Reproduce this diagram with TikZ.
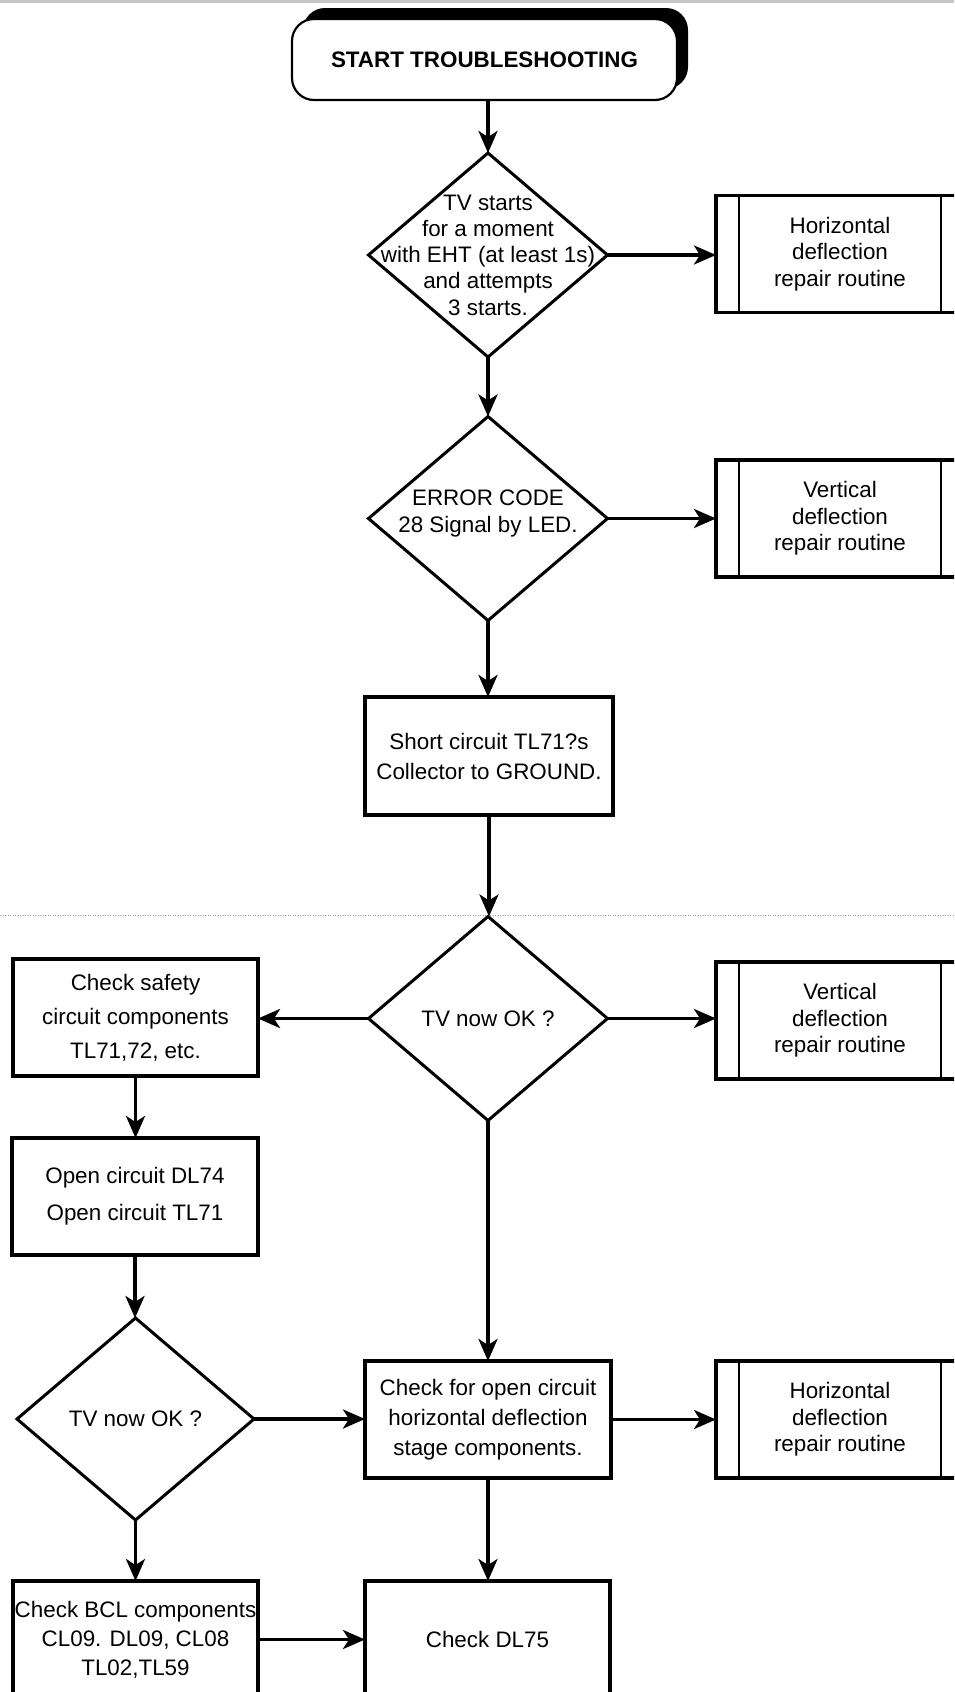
\documentclass[tikz,border=0pt]{standalone}
\usepackage{fontspec}
\setmainfont{Liberation Sans}
\usetikzlibrary{arrows.meta,shapes.geometric,shadows}
\begin{document}
\begin{tikzpicture}[x=1pt,y=-1pt,
  base/.style={font=\fontsize{22.4pt}{26.5pt}\selectfont, align=center, inner sep=0pt, outer sep=0pt},
  box/.style={base, draw, line width=3.5pt, rectangle, minimum width=245pt, minimum height=117pt},
  dec/.style={draw, diamond, line width=3pt, minimum width=239pt, minimum height=204pt, inner sep=0pt, outer sep=0pt},
  txt/.style={base},
  sub/.style={box, minimum width=248pt, path picture={
      \draw[line width=2.5pt] ([xshift=23pt]path picture bounding box.north west) -- ([xshift=23pt]path picture bounding box.south west);
      \draw[line width=2.5pt] ([xshift=-23pt]path picture bounding box.north east) -- ([xshift=-23pt]path picture bounding box.south east);}},
  arr/.style={line width=3.5pt, -{Stealth[length=22pt,width=19pt,inset=6pt]}},
  sp/.style={font=\fontsize{22.4pt}{#1}\selectfont}
]
\useasboundingbox (0,0) rectangle (954,1692);
\clip (0,0) rectangle (954,1692);
\fill[white] (0,0) rectangle (954,1692);
% scan artefacts
\fill[black!22] (0,0) rectangle (954,3);
\draw[black!40, line width=1pt, dash pattern=on 1pt off 1.5pt] (0,915) -- (954,915);

% start
\node[base, draw, fill=white, line width=2.2pt, rounded corners=22pt, minimum width=385pt, minimum height=81pt,
      font=\bfseries\fontsize{22.4pt}{26pt}\selectfont,
      drop shadow={fill=black, opacity=1, shadow xshift=11pt, shadow yshift=11pt}] (start) at (484.5,59.5) {START TROUBLESHOOTING};

% decision 1
\node[dec] (d1) at (488,255) {};
\node[txt, sp=26.3pt] (d1t) at (d1.center) {TV starts\\for a moment\\with EHT (at least 1s)\\and attempts\\3 starts.};
\node[sub] (h1) at (840,254) {Horizontal\\deflection\\repair routine};

% decision 2
\node[dec] (d2) at (488,518.5) {};
\node[txt, sp=27pt] (d2t) at ([yshift=5pt]d2.center) {ERROR CODE\\28 Signal by LED.};
\node[sub] (v1) at (840,518.5) {Vertical\\deflection\\repair routine};

% short circuit
\node[box, sp=30pt, minimum width=248pt, minimum height=118pt] (sc) at (489,756) {Short circuit TL71?s\\Collector to GROUND.};

% decision 3
\node[dec] (d3) at (488,1018.5) {};
\node[txt] (d3t) at (d3.center) {TV now OK ?};
\node[box, sp=34pt] (safety) at (135.5,1017.5) {Check safety\\circuit components\\TL71,72, etc.};
\node[sub] (v2) at (840,1020.5) {Vertical\\deflection\\repair routine};

% open circuit
\node[box, sp=37pt, minimum width=246pt] (oc) at (135,1196.5) {Open circuit DL74\\Open circuit TL71};

% decision 4
\node[dec, minimum width=237pt, minimum height=202pt] (d4) at (135.5,1419) {};
\node[txt] (d4t) at (d4.center) {TV now OK ?};
\node[box, sp=30pt, minimum width=246pt] (co) at (488,1419.5) {Check for open circuit\\horizontal deflection\\stage components.};
\node[sub] (h2) at (840,1419.5) {Horizontal\\deflection\\repair routine};

% bottom row
\node[box, sp=29pt] (bcl) at (135.5,1639.5) {Check BCL components\\CL09. DL09, CL08\\TL02,TL59};
\node[box] (dl75) at (487.5,1639.5) {Check DL75};

% connectors
\draw[arr] (start.south -| d1.north) -- (d1.north);
\draw[arr] (d1.east) -- (d1.east -| h1.west);
\draw[arr] (d1.south) -- (d2.north);
\draw[arr] (d2.east) -- (d2.east -| v1.west);
\draw[arr] (d2.south) -- (d2.south |- sc.north);
\draw[arr] (sc.south) -- (sc.south |- d3.north);
\draw[arr] (d3.west) -- (d3.west -| safety.east);
\draw[arr] (d3.east) -- (d3.east -| v2.west);
\draw[arr] (safety.south) -- (safety.south |- oc.north);
\draw[arr] (oc.south) -- (oc.south |- d4.north);
\draw[arr] (d3.south) -- (d3.south |- co.north);
\draw[arr] (d4.east) -- (d4.east -| co.west);
\draw[arr] (co.east) -- (co.east -| h2.west);
\draw[arr] (d4.south) -- (d4.south |- bcl.north);
\draw[arr] (co.south) -- (co.south |- dl75.north);
\draw[arr] (bcl.east) -- (bcl.east -| dl75.west);
\end{tikzpicture}
\end{document}
